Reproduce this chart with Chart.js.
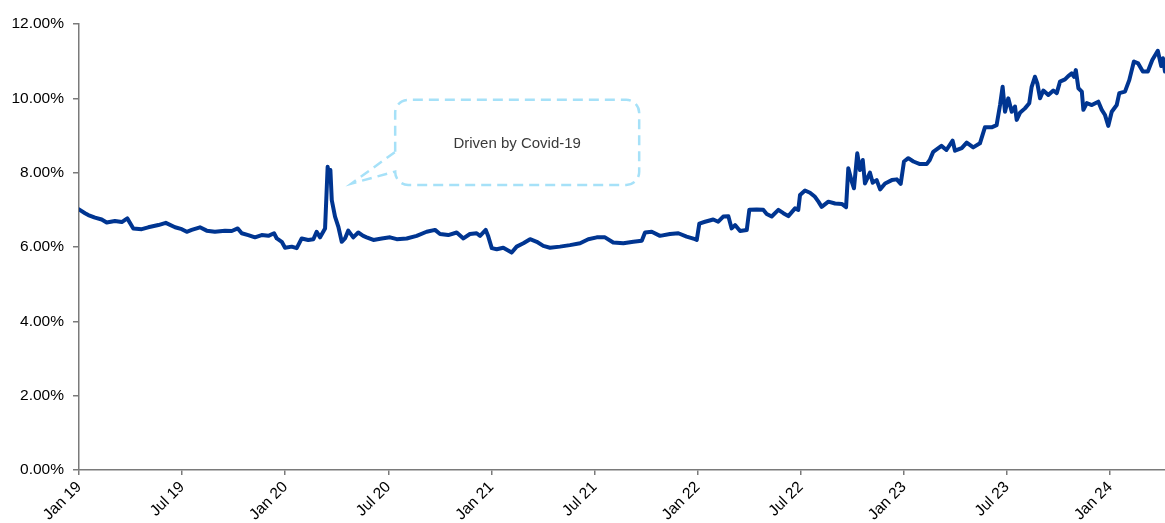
<!DOCTYPE html>
<html>
<head>
  <title>Rate chart</title>
  <script src="https://cdn.jsdelivr.net/npm/chart.js"></script>
  <style>
    body { margin: 0; background: #fff; }
  </style>
</head>
<body>
  <canvas id="rateChart" width="1165" height="523"></canvas>

  <script>
    // x = months since Jan 2019, y = rate in %
    const months = [
      0.00, 0.35, 0.54, 0.93, 1.32, 1.61, 2.09, 2.49, 2.81, 3.16,
      3.65, 4.03, 4.62, 5.05, 5.59, 5.98, 6.27, 6.56, 7.04, 7.43,
      7.91, 8.50, 8.89, 9.24, 9.47, 9.85, 10.24, 10.63, 11.02, 11.35,
      11.51, 11.80, 11.99, 12.38, 12.67, 12.96, 13.34, 13.64, 13.83, 14.03,
      14.32, 14.47, 14.57, 14.63, 14.71, 14.90, 15.09, 15.29, 15.48, 15.67,
      15.96, 16.25, 16.54, 16.74, 17.13, 17.62, 18.10, 18.49, 19.07, 19.65,
      20.23, 20.72, 21.01, 21.49, 21.98, 22.37, 22.75, 23.14, 23.34, 23.67,
      23.82, 24.02, 24.31, 24.69, 25.18, 25.47, 25.86, 26.25, 26.64, 27.02,
      27.41, 27.99, 28.57, 29.16, 29.64, 30.13, 30.61, 31.09, 31.68, 32.26,
      32.75, 32.94, 33.33, 33.81, 34.39, 34.88, 35.36, 35.85, 35.95, 36.10,
      36.43, 36.91, 37.20, 37.49, 37.79, 37.98, 38.18, 38.47, 38.86, 39.01,
      39.44, 39.82, 40.02, 40.31, 40.70, 40.99, 41.28, 41.67, 41.86, 41.96,
      42.25, 42.54, 42.83, 43.03, 43.22, 43.61, 44.00, 44.39, 44.64, 44.77,
      44.97, 45.10, 45.29, 45.45, 45.61, 45.74, 46.03, 46.19, 46.42, 46.62,
      46.91, 47.30, 47.59, 47.82, 48.01, 48.26, 48.56, 48.94, 49.33, 49.51,
      49.71, 50.19, 50.48, 50.84, 50.98, 51.37, 51.66, 52.04, 52.43, 52.72,
      53.11, 53.40, 53.60, 53.75, 53.89, 54.08, 54.28, 54.47, 54.57, 54.76,
      55.05, 55.30, 55.44, 55.63, 55.77, 55.93, 56.12, 56.41, 56.70, 56.90,
      57.09, 57.38, 57.57, 57.77, 57.91, 58.01, 58.16, 58.36, 58.45, 58.65,
      58.94, 59.32, 59.52, 59.71, 59.90, 60.10, 60.39, 60.54, 60.87, 61.12,
      61.39, 61.64, 61.91, 62.20, 62.46, 62.78, 62.98, 63.08, 63.20
    ];
    const rates = [
      7.01, 6.91, 6.86, 6.79, 6.74, 6.66, 6.70, 6.67, 6.77, 6.50,
      6.48, 6.53, 6.59, 6.65, 6.53, 6.48, 6.41, 6.46, 6.53, 6.44,
      6.41, 6.44, 6.43, 6.50, 6.37, 6.32, 6.26, 6.32, 6.30, 6.37,
      6.23, 6.14, 5.98, 6.01, 5.97, 6.23, 6.19, 6.21, 6.41, 6.26,
      6.50, 8.16, 7.89, 8.07, 7.26, 6.82, 6.55, 6.14, 6.23, 6.44,
      6.26, 6.39, 6.30, 6.26, 6.19, 6.23, 6.26, 6.21, 6.23, 6.30,
      6.41, 6.46, 6.35, 6.32, 6.39, 6.23, 6.35, 6.37, 6.30, 6.46,
      6.28, 5.97, 5.94, 5.98, 5.85, 6.01, 6.10, 6.21, 6.14, 6.03,
      5.98, 6.01, 6.05, 6.10, 6.21, 6.26, 6.26, 6.12, 6.10, 6.14,
      6.17, 6.39, 6.41, 6.30, 6.35, 6.37, 6.28, 6.21, 6.19, 6.63,
      6.68, 6.74, 6.68, 6.82, 6.83, 6.50, 6.59, 6.43, 6.46, 7.00,
      7.01, 7.00, 6.89, 6.82, 7.00, 6.91, 6.83, 7.04, 7.00, 7.40,
      7.52, 7.46, 7.35, 7.22, 7.08, 7.22, 7.17, 7.16, 7.07, 8.12,
      7.76, 7.58, 8.52, 8.07, 8.34, 7.71, 8.00, 7.73, 7.80, 7.55,
      7.71, 7.80, 7.82, 7.70, 8.30, 8.39, 8.30, 8.23, 8.23, 8.34,
      8.56, 8.72, 8.61, 8.86, 8.59, 8.66, 8.81, 8.68, 8.79, 9.22,
      9.22, 9.28, 9.82, 10.31, 9.64, 10.00, 9.64, 9.78, 9.42, 9.61,
      9.73, 9.87, 10.31, 10.58, 10.40, 10.00, 10.21, 10.09, 10.21, 10.14,
      10.45, 10.51, 10.60, 10.67, 10.58, 10.76, 10.27, 10.18, 9.69, 9.87,
      9.82, 9.91, 9.69, 9.55, 9.26, 9.64, 9.82, 10.14, 10.18, 10.49,
      10.99, 10.94, 10.72, 10.72, 11.03, 11.28, 10.87, 11.08, 10.72
    ];
    const tickMonths = [0, 6, 12, 18, 24, 30, 36, 42, 48, 54, 60];
    const tickLabels = ['Jan 19', 'Jul 19', 'Jan 20', 'Jul 20', 'Jan 21', 'Jul 21',
                        'Jan 22', 'Jul 22', 'Jan 23', 'Jul 23', 'Jan 24'];
    const calloutText = 'Driven by Covid-19';

    const FONT = 'Arial, "Liberation Sans", sans-serif';
    const AXIS = '#7a7a7a';

    // dashed speech bubble pointing at the 2020 spike
    const calloutPlugin = {
      id: 'callout',
      afterDraw(chart) {
        const ctx = chart.ctx;
        const xs = chart.scales.x, ys = chart.scales.y;
        const left = xs.getPixelForValue(18.4);
        const right = xs.getPixelForValue(32.6);
        const top = ys.getPixelForValue(9.96);
        const bottom = ys.getPixelForValue(7.67);
        const tipX = xs.getPixelForValue(15.87), tipY = ys.getPixelForValue(7.71);
        const tailA = ys.getPixelForValue(8.56), tailB = ys.getPixelForValue(8.03);
        const r = 13;

        ctx.save();
        ctx.strokeStyle = '#a6e1f8';
        ctx.lineWidth = 2.5;
        ctx.setLineDash([10, 6]);
        ctx.beginPath();
        ctx.moveTo(left, tailA);
        ctx.lineTo(left, top + r);
        ctx.arcTo(left, top, left + r, top, r);
        ctx.lineTo(right - r, top);
        ctx.arcTo(right, top, right, top + r, r);
        ctx.lineTo(right, bottom - r);
        ctx.arcTo(right, bottom, right - r, bottom, r);
        ctx.lineTo(left + r, bottom);
        ctx.arcTo(left, bottom, left, bottom - r, r);
        ctx.lineTo(left, tailB);
        ctx.lineTo(tipX, tipY);
        ctx.closePath();
        ctx.stroke();

        ctx.setLineDash([]);
        ctx.fillStyle = '#3a3a3a';
        ctx.font = '15px ' + FONT;
        ctx.textAlign = 'center';
        ctx.textBaseline = 'middle';
        ctx.fillText(calloutText, (left + right) / 2, (top + bottom) / 2 + 1);
        ctx.restore();
      }
    };

    new Chart(document.getElementById('rateChart').getContext('2d'), {
      type: 'line',
      data: {
        datasets: [{
          data: months.map((m, i) => ({ x: m, y: rates[i] })),
          borderColor: '#003591',
          borderWidth: 4,
          borderJoinStyle: 'round',
          borderCapStyle: 'round',
          pointRadius: 0,
          tension: 0,
          fill: false
        }]
      },
      options: {
        responsive: false,
        animation: false,
        layout: { padding: { top: 24, right: 0, left: 0, bottom: 0 } },
        plugins: { legend: { display: false }, tooltip: { enabled: false } },
        scales: {
          x: {
            type: 'linear',
            min: 0,
            max: 63.2,
            afterBuildTicks: s => { s.ticks = tickMonths.map(v => ({ value: v })); },
            afterFit: s => { s.height = 53; },
            border: { color: AXIS, width: 1.5 },
            grid: { drawOnChartArea: false, drawTicks: true, tickLength: 5, color: AXIS, lineWidth: 1.5 },
            ticks: {
              autoSkip: false,
              maxRotation: 45,
              minRotation: 45,
              padding: 3,
              color: '#000',
              font: { family: FONT, size: 15.5 },
              callback: v => tickLabels[tickMonths.indexOf(v)]
            }
          },
          y: {
            min: 0,
            max: 12,
            afterFit: s => { s.width = 79; },
            border: { color: AXIS, width: 1.5 },
            grid: { drawOnChartArea: false, drawTicks: true, tickLength: 6, color: AXIS, lineWidth: 1.5 },
            ticks: {
              stepSize: 2,
              padding: 9,
              color: '#000',
              font: { family: FONT, size: 15.5 },
              callback: v => v.toFixed(2) + '%'
            }
          }
        }
      },
      plugins: [calloutPlugin]
    });
  </script>
</body>
</html>
